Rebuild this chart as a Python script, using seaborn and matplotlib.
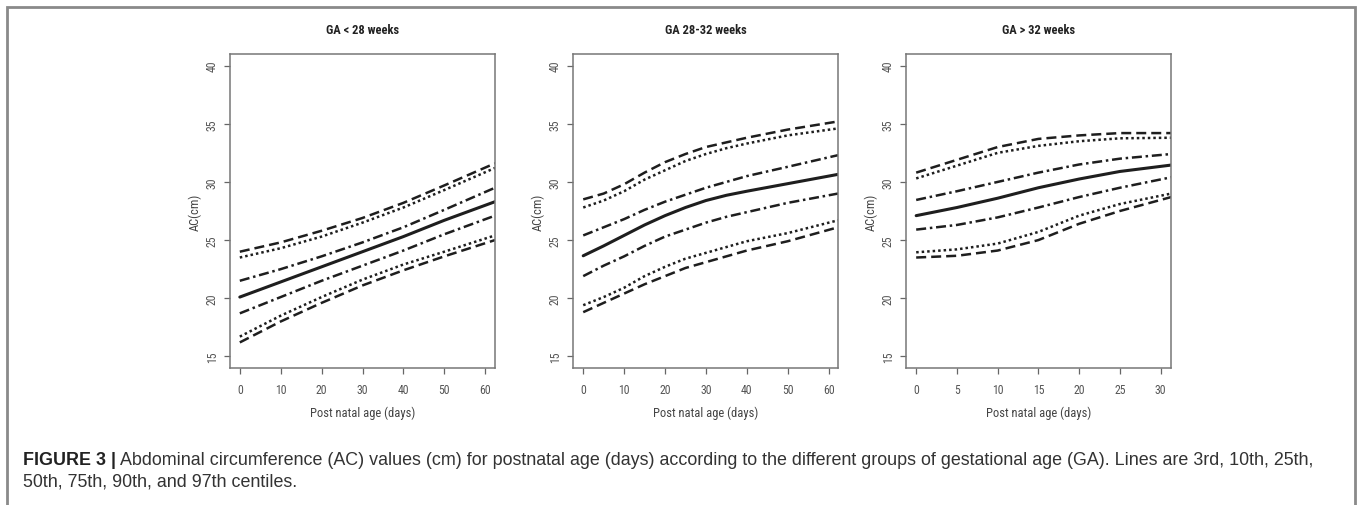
"""
Abdominal circumference centile curves by gestational-age group (3 panels).
"""

import matplotlib

matplotlib.use("Agg")
import matplotlib.pyplot as plt
import pandas as pd
import seaborn as sns
from matplotlib.patches import Rectangle

sns.set_theme(style="white")
NARROW = ["Roboto Condensed", "Liberation Sans Narrow", "Liberation Sans", "DejaVu Sans"]
CAPTION_FONT = ["Liberation Sans", "DejaVu Sans"]
plt.rcParams["font.family"] = NARROW

# ---- data ------------------------------------------------------------------
centiles = ["3rd", "10th", "25th", "50th", "75th", "90th", "97th"]

days_lt28 = [0, 10, 20, 30, 40, 50, 62.4]
ac_lt28 = {
    "97th": [24.0, 24.8, 25.8, 26.9, 28.2, 29.7, 31.6],
    "90th": [23.5, 24.3, 25.3, 26.5, 27.8, 29.3, 31.2],
    "75th": [21.5, 22.5, 23.6, 24.8, 26.1, 27.6, 29.5],
    "50th": [20.1, 21.4, 22.7, 24.0, 25.3, 26.7, 28.3],
    "25th": [18.7, 20.1, 21.5, 22.8, 24.1, 25.5, 27.1],
    "10th": [16.7, 18.5, 20.1, 21.6, 22.9, 24.0, 25.4],
    "3rd": [16.2, 18.0, 19.6, 21.1, 22.4, 23.6, 25.0],
}

days_28_32 = [0, 5, 10, 15, 20, 25, 30, 35, 40, 50, 62.3]
ac_28_32 = {
    "97th": [28.5, 29.0, 29.8, 30.8, 31.7, 32.4, 33.0, 33.4, 33.8, 34.5, 35.2],
    "90th": [27.8, 28.4, 29.2, 30.2, 31.0, 31.8, 32.4, 32.9, 33.3, 34.0, 34.6],
    "75th": [25.4, 26.1, 26.8, 27.6, 28.3, 28.9, 29.5, 30.0, 30.5, 31.3, 32.3],
    "50th": [23.65, 24.5, 25.4, 26.3, 27.1, 27.8, 28.4, 28.85, 29.2, 29.85, 30.65],
    "25th": [21.9, 22.8, 23.6, 24.5, 25.3, 25.9, 26.5, 27.0, 27.4, 28.2, 29.0],
    "10th": [19.4, 20.1, 20.9, 21.9, 22.7, 23.4, 23.9, 24.4, 24.9, 25.6, 26.7],
    "3rd": [18.8, 19.6, 20.4, 21.2, 21.9, 22.6, 23.1, 23.6, 24.1, 24.9, 26.1],
}

days_gt32 = [0, 5, 10, 15, 20, 25, 31.3]
ac_gt32 = {
    "97th": [30.8, 31.9, 33.0, 33.7, 34.0, 34.2, 34.2],
    "90th": [30.3, 31.4, 32.5, 33.1, 33.5, 33.75, 33.8],
    "75th": [28.45, 29.2, 30.0, 30.8, 31.5, 32.0, 32.4],
    "50th": [27.1, 27.8, 28.6, 29.5, 30.25, 30.9, 31.45],
    "25th": [25.9, 26.3, 26.95, 27.8, 28.7, 29.5, 30.4],
    "10th": [23.95, 24.2, 24.7, 25.7, 27.1, 28.1, 29.0],
    "3rd": [23.5, 23.65, 24.1, 25.0, 26.4, 27.5, 28.7],
}

panel_titles = ["GA < 28 weeks", "GA 28-32 weeks", "GA > 32 weeks"]
x_ticks = [[0, 10, 20, 30, 40, 50, 60], [0, 10, 20, 30, 40, 50, 60], [0, 5, 10, 15, 20, 25, 30]]
y_ticks = [15, 20, 25, 30, 35, 40]

caption_bold = "FIGURE 3 |"
caption_text = (
    " Abdominal circumference (AC) values (cm) for postnatal age (days) according to the "
    "different groups of gestational age (GA). Lines are 3rd, 10th, 25th,"
)
caption_text2 = "50th, 75th, 90th, and 97th centiles."

# R-style line types per centile
styles = {
    "3rd": ((0, (4, 2)), 1.8),
    "10th": ((0, (1, 1.2)), 1.8),
    "25th": ((0, (4, 1.5, 1, 1.5)), 1.8),
    "50th": ("-", 2.2),
    "75th": ((0, (4, 1.5, 1, 1.5)), 1.8),
    "90th": ((0, (1, 1.2)), 1.8),
    "97th": ((0, (4, 2)), 1.8),
}


def long_frame(days, table):
    rows = []
    for c in centiles:
        for d, v in zip(days, table[c]):
            rows.append({"day": d, "ac": v, "centile": c})
    return pd.DataFrame(rows)


fig = plt.figure(figsize=(13.57, 5.06), dpi=100)

# outer frame of the published figure
fig.patches.append(
    Rectangle((7 / 1357, -0.05), 1348 / 1357, 1.05 - 8 / 506, transform=fig.transFigure,
              fill=False, edgecolor="#8a8a8a", linewidth=2)
)

lefts = [230, 573, 906]
xlims = [(-2.4, 62.4), (-2.5, 62.3), (-1.25, 31.27)]
panels = [(days_lt28, ac_lt28), (days_28_32, ac_28_32), (days_gt32, ac_gt32)]

for i, (days, table) in enumerate(panels):
    ax = fig.add_axes([lefts[i] / 1357, 1 - 369 / 506, 265 / 1357, 314 / 506])
    df = long_frame(days, table)
    for c in centiles:
        ls, lw = styles[c]
        sns.lineplot(data=df[df["centile"] == c], x="day", y="ac", ax=ax,
                     color="#1e1e1e", linewidth=lw, linestyle=ls, legend=False)
    ax.set_xlim(*xlims[i])
    ax.set_ylim(14, 41)
    ax.set_xticks(x_ticks[i])
    ax.set_yticks(y_ticks)
    ax.set_yticklabels([str(t) for t in y_ticks], rotation=90, va="center")
    ax.tick_params(axis="both", bottom=True, left=True, length=4, width=0.9,
                   colors="#666666", labelsize=8.5, labelcolor="#555555", direction="out")
    ax.tick_params(axis="x", pad=7)
    ax.tick_params(axis="y", pad=4)
    for sp in ax.spines.values():
        sp.set_color("#777777")
        sp.set_linewidth(1.1)
    ax.set_xlabel("Post natal age (days)", fontsize=9, color="#444444", labelpad=7)
    ax.set_ylabel("AC(cm)", fontsize=9, color="#444444", labelpad=3)
    ax.set_title(panel_titles[i], fontsize=9, fontweight="bold", color="#222222", pad=15)

t = fig.text(23 / 1357, 1 - 461 / 506, caption_bold, fontsize=12.9, fontweight="bold",
             family=CAPTION_FONT, color="#222222", va="center", ha="left")
fig.canvas.draw()
bb = t.get_window_extent()
fig.text(bb.x1 / 1357, 1 - 461 / 506, caption_text, fontsize=12.9, family=CAPTION_FONT,
         color="#333333", va="center", ha="left")
fig.text(23 / 1357, 1 - 482 / 506, caption_text2, fontsize=12.9, family=CAPTION_FONT,
         color="#333333", va="center", ha="left")

fig.savefig("out.png", dpi=100)
